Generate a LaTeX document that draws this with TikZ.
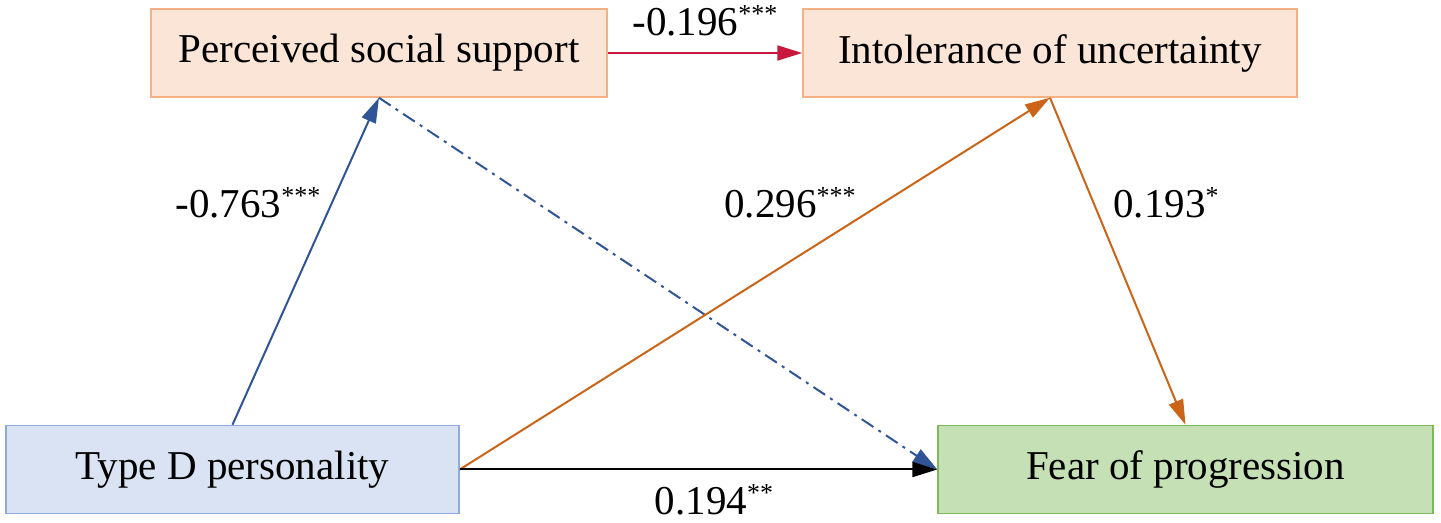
\documentclass[tikz,border=0pt]{standalone}
\usepackage{fontspec}
\setmainfont{Liberation Serif}
\usetikzlibrary{arrows.meta}
\definecolor{peachfill}{HTML}{FBE5D6}
\definecolor{peachdraw}{HTML}{F4B183}
\definecolor{bluefill}{HTML}{DAE3F3}
\definecolor{bluedraw}{HTML}{8FAADC}
\definecolor{greenfill}{HTML}{C5E0B4}
\definecolor{greendraw}{HTML}{7FB85A}
\definecolor{pathblue}{HTML}{2F5597}
\definecolor{pathorange}{HTML}{CC6418}
\definecolor{pathred}{HTML}{C8193C}
\newcommand\sigstars[1]{\raisebox{6.5pt}{\fontsize{13}{13}\selectfont #1}}
\tikzset{
  varbox/.style={draw, line width=0.75pt, minimum height=44pt, inner sep=0pt,
    font=\fontsize{20.5}{24}\selectfont},
  peach/.style={varbox, fill=peachfill, draw=peachdraw},
  bluebox/.style={varbox, fill=bluefill, draw=bluedraw},
  greenbox/.style={varbox, fill=greenfill, draw=greendraw},
  conn/.style={line width=1pt, -{Triangle[length=12.5pt,width=7.5pt]}},
  coef/.style={font=\fontsize{20.5}{24}\selectfont, inner sep=0pt}
}
\begin{document}
\begin{tikzpicture}[x=0.5pt,y=-0.5pt]
\useasboundingbox (0,0) rectangle (1441,523);
\node[peach, minimum width=228pt] (pss) at (379,53) {Perceived social support};
\node[peach, minimum width=247pt] (iu) at (1050,53) {Intolerance of uncertainty};
\node[bluebox, minimum width=226.5pt] (td) at (232.5,469.5) {Type D personality};
\node[greenbox, minimum width=247.5pt] (fop) at (1185.5,469.5) {Fear of progression};

\draw[conn, pathblue, dash pattern=on 7pt off 3pt on 1.5pt off 3pt] (pss.south) -- (fop.west);
\draw[conn, pathred] (pss.east) -- (iu.west);
\draw[conn, pathblue] (td.north) -- (pss.south);
\draw[conn, pathorange] (td.east) -- (iu.south);
\draw[conn, pathorange] (iu.south) -- (fop.north);
\draw[conn, black] (td.east) -- (fop.west);

\node[coef, anchor=base] (l1) at (705,36) {-0.196\sigstars{***}};
\node[coef, anchor=base] (l2) at (248,218) {-0.763\sigstars{***}};
\node[coef, anchor=base] (l3) at (790,218) {0.296\sigstars{***}};
\node[coef, anchor=base] (l4) at (1166,218) {0.193\sigstars{*}};
\node[coef, anchor=base] (l5) at (714,515) {0.194\sigstars{**}};
\end{tikzpicture}
\end{document}
